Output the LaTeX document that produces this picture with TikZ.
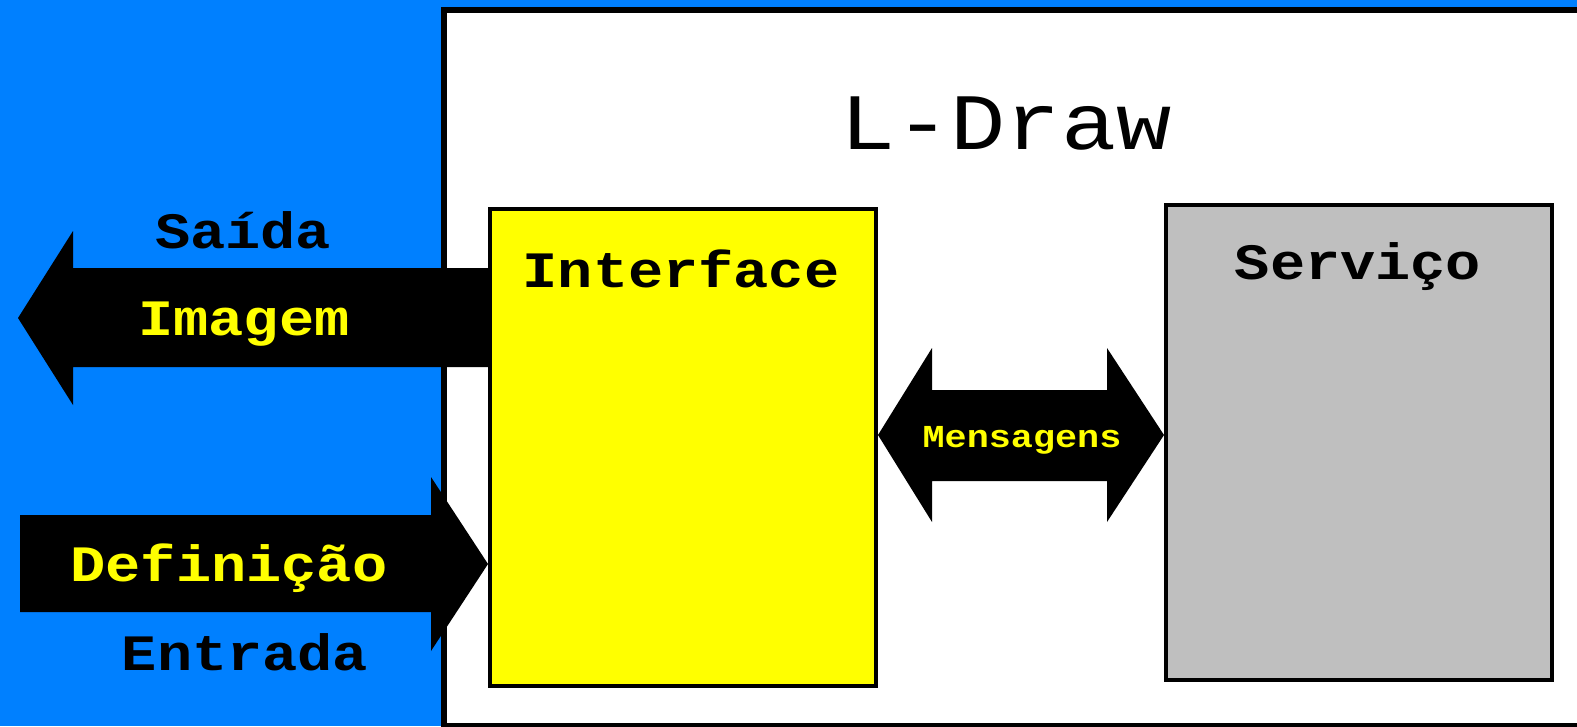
\documentclass[tikz,border=0pt]{standalone}
\usepackage{fontspec}
\newfontfamily\cour[FakeStretch=1.15]{Liberation Mono}
\definecolor{bgblue}{RGB}{0,128,255}
\definecolor{boxyellow}{RGB}{255,255,0}
\definecolor{boxgray}{RGB}{191,191,191}
\tikzset{
  lbl/.style={anchor=base, inner sep=0pt, font=\cour\bfseries\fontsize{51}{53}\selectfont},
  biglbl/.style={anchor=base, inner sep=0pt, font=\cour\fontsize{80}{82}\selectfont},
  smalllbl/.style={anchor=base, inner sep=0pt, font=\cour\bfseries\fontsize{32}{34}\selectfont},
  blockbox/.style={draw=black, line width=4pt, anchor=north west, inner sep=0pt},
  blockarrow/.style={fill=black}
}
\begin{document}
\begin{tikzpicture}[x=1pt,y=-1pt]
\useasboundingbox (0,0) rectangle (1577,726);
\fill[bgblue] (0,0) rectangle (1577,726);
% main panel
\draw[line width=6pt, fill=white] (444,10) rectangle (1620,726);
\node[biglbl] (title) at (1006,149) {L-Draw};
% boxes
\node[blockbox, fill=boxyellow, minimum width=386pt, minimum height=477pt] (iface) at (488,207) {};
\node[blockbox, fill=boxgray, minimum width=386pt, minimum height=475pt] (serv) at (1164,203) {};
\node[lbl] (ifacelbl) at (681,287) {Interface};
\node[lbl] (servlbl) at (1358,279) {Serviço};
% output arrow
\coordinate (outtip) at (18,318);
\fill[blockarrow] (iface.west |- 0,268) -- (73,268) -- (73,231) -- (outtip) -- (73,405) -- (73,367) -- (iface.west |- 0,367) -- cycle;
\node[lbl] (saida) at (243,248) {Saída};
\node[lbl, text=boxyellow] (imagem) at (244,335) {Imagem};
% input arrow
\coordinate (inbase) at (20,564);
\fill[blockarrow] (inbase |- 0,515) -- (431,515) -- (431,477) -- (iface.west |- 0,564) -- (431,651) -- (431,612) -- (inbase |- 0,612) -- cycle;
\node[lbl, text=boxyellow] (defin) at (229,581) {Definição};
\node[lbl] (entrada) at (245,670) {Entrada};
% message arrow
\fill[blockarrow] (iface.east |- 0,435) -- (932,348) -- (932,390) -- (1107,390) -- (1107,348) -- (serv.west |- 0,435) -- (1107,522) -- (1107,481) -- (932,481) -- (932,522) -- cycle;
\node[smalllbl, text=boxyellow] (msg) at (1022,447) {Mensagens};
\end{tikzpicture}
\end{document}
